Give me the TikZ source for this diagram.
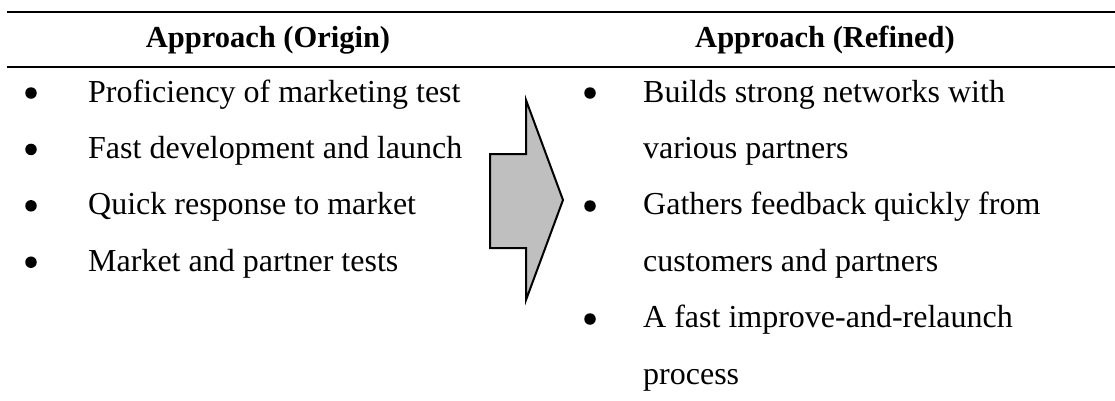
\documentclass[tikz,border=0pt]{standalone}
\usepackage{fontspec}
\setmainfont{Liberation Serif}
\begin{document}
\begin{tikzpicture}[x=1pt,y=-1pt,
  rule/.style={line width=2pt},
  head/.style={anchor=base,inner sep=0pt,font=\fontsize{30.5}{36}\selectfont\bfseries},
  item/.style={anchor=base west,inner sep=0pt,font=\fontsize{32}{38}\selectfont},
  dot/.style={circle,fill=black,inner sep=0pt,minimum size=11.5pt},
  bigarrow/.style={draw=black,line width=2pt,fill=gray!50!white,line join=miter}]
\useasboundingbox (0,0) rectangle (1115,400);
% table rules
\coordinate (r1a) at (7,12);
\coordinate (r1b) at (1115,12);
\coordinate (r2a) at (7,67);
\coordinate (r2b) at (1115,67);
\draw[rule] (r1a) -- (r1b);
\draw[rule] (r2a) -- (r2b);
% column headings
\node[head] (hl) at (268,47) {Approach (Origin)};
\node[head] (hr) at (825,47) {Approach (Refined)};
% left column
\foreach \t [count=\i from 0] in {Proficiency of marketing test,Fast development and launch,Quick response to market,Market and partner tests}{
  \node[dot] (ld\i) at (31,{93+56.4*\i}) {};
  \node[item] (lt\i) at (88,{102+56.4*\i}) {\t};
}
% transition arrow
\draw[bigarrow] (490,154) -- (526,154) -- (526,100) -- (563,200) -- (526,300) -- (526,248) -- (490,248) -- cycle;
% right column
\node[dot] (rd0) at (590,93) {};
\node[item] (rt0) at (643,102) {Builds strong networks with};
\node[item] (rt1) at (643,158.4) {various partners};
\node[dot] (rd1) at (590,206) {};
\node[item] (rt2) at (643,214.8) {Gathers feedback quickly from};
\node[item] (rt3) at (643,271.2) {customers and partners};
\node[dot] (rd2) at (590,319) {};
\node[item] (rt4) at (643,327.6) {A fast improve-and-relaunch};
\node[item] (rt5) at (643,384) {process};
\end{tikzpicture}
\end{document}
